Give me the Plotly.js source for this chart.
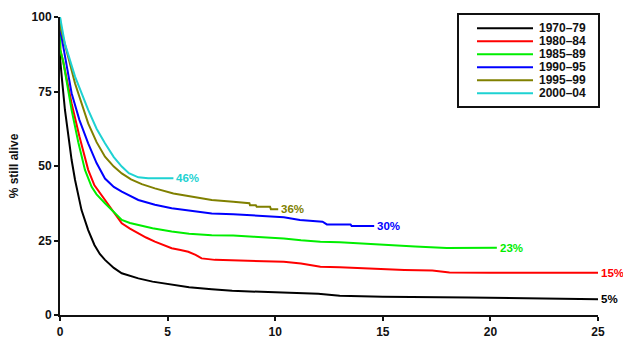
<!DOCTYPE html>
<html>
<head>
<meta charset="utf-8">
<script src="https://cdn.plot.ly/plotly-3.0.1.min.js"></script>
<style>html,body{margin:0;padding:0;background:#fff;}#chart{width:623px;height:338px;}</style>
</head>
<body>
<div id="chart"></div>
<script>
// ---- data ----
const seriesNames = ['1970–79', '1980–84', '1985–89', '1990–95', '1995–99', '2000–04'];
const endLabels = ['5%', '15%', '23%', '30%', '36%', '46%'];
const seriesColors = ['#000000', '#ff0000', '#00ee00', '#0000ff', '#808000', '#1ed2d2'];

const x7079 = [0, 0.005, 0.1, 0.23, 0.54, 0.7, 1.0, 1.31, 1.6, 1.85, 2.09, 2.5, 2.87, 3.64, 4.3, 5.19, 6, 7.05, 8, 10, 12, 13, 15, 19, 22, 25];
const y7079 = [100, 86, 78.5, 68.8, 52, 45.3, 35.2, 28.5, 23.5, 20.5, 18.5, 15.8, 14, 12.3, 11.2, 10.1, 9.3, 8.6, 8.1, 7.6, 7.1, 6.5, 6.1, 5.9, 5.6, 5.3];

const x8084 = [0, 0.01, 0.15, 0.54, 0.9, 1.31, 1.6, 2.09, 2.4, 2.87, 3.25, 3.64, 4.0, 4.41, 4.8, 5.19, 5.6, 5.96, 6.3, 6.58, 7.2, 8.05, 9, 10.4, 11.2, 12.1, 13, 13.9, 15, 16, 17.3, 18.1, 20, 22, 25];
const y8084 = [100, 89, 85, 71, 60, 48.7, 43.5, 38.6, 35.2, 30.8, 29, 27.4, 26, 24.6, 23.5, 22.4, 21.8, 21.2, 20.2, 19, 18.5, 18.3, 18.1, 17.9, 17.3, 16.2, 16, 15.7, 15.4, 15.1, 14.9, 14.3, 14.2, 14.2, 14.2];

const x8589 = [0, 0.01, 0.15, 0.54, 0.85, 1.16, 1.47, 1.7, 2.09, 2.4, 2.87, 3.25, 3.64, 4.3, 5.19, 6, 7.05, 8.05, 9, 10.4, 11.2, 12.1, 13, 15, 16.5, 17.97, 19, 20.3];
const y8589 = [100, 89, 85, 68.8, 58, 48.7, 43, 40.5, 37.5, 35.2, 31.9, 30.9, 30.2, 29.1, 28, 27.3, 26.8, 26.7, 26.3, 25.7, 25.1, 24.6, 24.4, 23.5, 23, 22.5, 22.5, 22.6];

const x9095 = [0, 0.01, 0.08, 0.54, 0.9, 1.31, 1.7, 2.09, 2.5, 2.87, 3.64, 4.41, 5.19, 6, 7.05, 8.05, 9, 10.4, 11.15, 12.2, 12.4, 13.5, 13.55, 14.6];
const y9095 = [100, 95, 93, 74.4, 65.5, 57.6, 51, 45.8, 43, 41.4, 38.6, 37, 35.8, 35, 34.1, 33.8, 33.3, 32.8, 31.9, 31.3, 30.4, 30.4, 29.9, 29.9];

const x9599 = [0, 0.01, 0.08, 0.7, 1.31, 1.7, 2.09, 2.5, 2.87, 3.3, 3.8, 4.41, 5.27, 6, 7.05, 8.05, 8.8, 8.83, 9.1, 9.14, 9.76, 9.8, 10.14];
const y9599 = [100, 96.7, 95, 77.7, 64.3, 58, 53.1, 49.8, 47.5, 45.5, 43.9, 42.5, 40.8, 39.8, 38.6, 38, 37.5, 36.8, 36.8, 36.3, 36.3, 35.5, 35.5];

const x0004 = [0, 0.1, 0.23, 0.7, 1.31, 1.7, 2.09, 2.5, 2.87, 3.2, 3.64, 4.1, 5.27];
const y0004 = [100, 96, 91, 80, 68.8, 62.5, 57.6, 53, 49.8, 47.6, 46.2, 45.9, 45.9];

const xValues = [x7079, x8084, x8589, x9095, x9599, x0004];
const yValues = [y7079, y8084, y8589, y9095, y9599, y0004];
const xTicks = [0, 5, 10, 15, 20, 25];
const yTicks = [0, 25, 50, 75, 100];

// ---- chart ----
const FONT = 'Liberation Sans, Arial, sans-serif';
const W = 623, H = 338;
const M = {l: 60, r: 25, t: 17, b: 23};
const PW = W - M.l - M.r, PH = H - M.t - M.b;
const px2paperX = p => (p - M.l) / PW;
const px2paperY = p => (H - M.b - p) / PH;

const traces = seriesNames.map((n, i) => ({
  x: xValues[i], y: yValues[i], name: n, type: 'scatter', mode: 'lines',
  line: {color: seriesColors[i], width: 2}, showlegend: false, hoverinfo: 'skip'
}));

const annotations = seriesNames.map((n, i) => ({
  x: xValues[i][xValues[i].length - 1], y: yValues[i][yValues[i].length - 1],
  xref: 'x', yref: 'y', text: endLabels[i], showarrow: false,
  xanchor: 'left', yanchor: 'middle', xshift: 1,
  font: {family: FONT, size: 11.5, color: seriesColors[i], weight: 'bold'}
}));

const shapes = [{
  type: 'rect', xref: 'paper', yref: 'paper',
  x0: px2paperX(458), x1: px2paperX(599), y0: px2paperY(107), y1: px2paperY(14),
  line: {color: '#111', width: 2}, fillcolor: 'rgba(0,0,0,0)'
}];
seriesNames.forEach((n, i) => {
  const py = 28.3 + i * 13;
  shapes.push({type: 'line', xref: 'paper', yref: 'paper',
    x0: px2paperX(477), x1: px2paperX(533), y0: px2paperY(py), y1: px2paperY(py),
    line: {color: seriesColors[i], width: 2}});
  annotations.push({xref: 'paper', yref: 'paper', x: px2paperX(537), y: px2paperY(py),
    text: n, showarrow: false, xanchor: 'left', yanchor: 'middle',
    font: {family: FONT, size: 12, color: '#111', weight: 'bold'}});
});

const axisCommon = {
  showline: true, linecolor: '#111', linewidth: 2, showgrid: false, zeroline: false,
  ticks: 'outside', ticklen: 4, tickwidth: 2, tickcolor: '#111',
  tickfont: {family: FONT, size: 12, color: '#111', weight: 'bold'}
};

const layout = {
  width: W, height: H, margin: M, paper_bgcolor: '#fff', plot_bgcolor: '#fff',
  showlegend: false,
  xaxis: Object.assign({}, axisCommon, {range: [0, 25], tickvals: xTicks, ticktext: xTicks.map(String), ticklabelstandoff: 1}),
  yaxis: Object.assign({}, axisCommon, {range: [0, 100], tickvals: yTicks, ticktext: yTicks.map(String),
    title: {text: '% still alive', standoff: 10, font: {family: FONT, size: 12, color: '#111', weight: 'bold'}}}),
  annotations: annotations, shapes: shapes
};

Plotly.newPlot('chart', traces, layout, {staticPlot: true, displayModeBar: false});
</script>
</body>
</html>
